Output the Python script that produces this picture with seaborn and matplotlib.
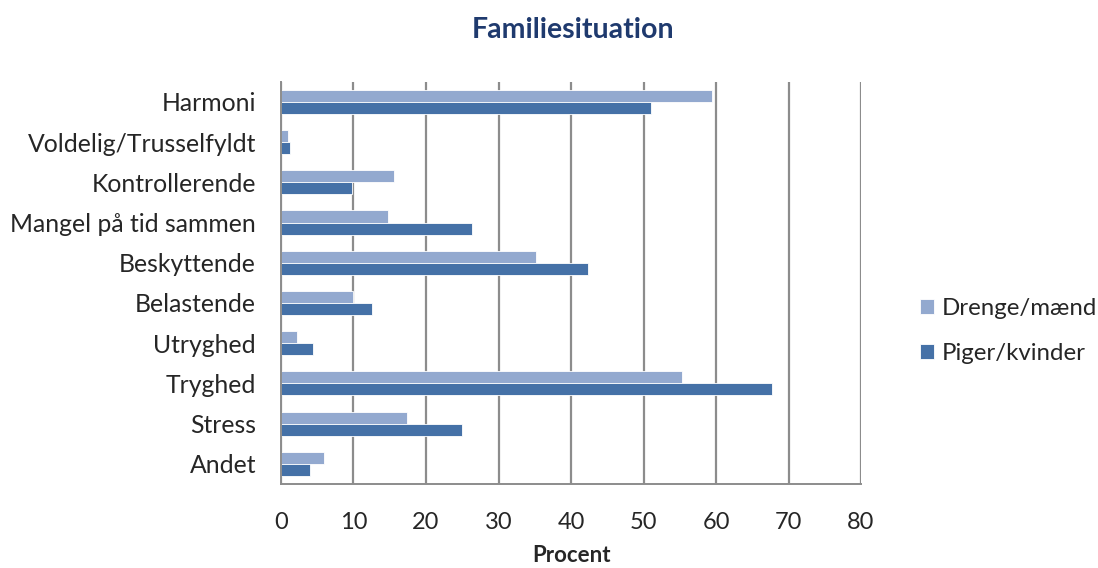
import pandas as pd
import matplotlib.pyplot as plt
import seaborn as sns

kategorier = ["Harmoni", "Voldelig/Trusselfyldt", "Kontrollerende", "Mangel på tid sammen",
              "Beskyttende", "Belastende", "Utryghed", "Tryghed", "Stress", "Andet"]
drenge = [59.5, 0.9, 15.6, 14.8, 35.2, 10.0, 2.2, 55.3, 17.4, 6.0]
piger = [51.0, 1.3, 9.8, 26.4, 42.4, 12.6, 4.4, 67.7, 25.0, 4.0]
serier = ["Drenge/mænd", "Piger/kvinder"]
farver = ["#93A9CF", "#4571A7"]

df = pd.DataFrame({
    "Kategori": kategorier * 2,
    "Procent": drenge + piger,
    "Gruppe": [serier[0]] * len(kategorier) + [serier[1]] * len(kategorier),
})

sns.set_style("white")
plt.rcParams['font.family'] = ['Lato', 'DejaVu Sans']

fig = plt.figure(figsize=(10.98, 5.68), dpi=100)
ax = fig.add_axes([0.2559, 0.148, 0.5283, 0.708])

sns.barplot(data=df, y="Kategori", x="Procent", hue="Gruppe", hue_order=serier,
            order=kategorier, palette=farver, orient="h", width=0.6, ax=ax,
            saturation=1, edgecolor="white", linewidth=0.6, legend=True)

ax.set_xlim(0, 80)
ax.set_xticks(range(0, 81, 10))
ax.xaxis.grid(True, color="#8C8C8C", linewidth=1.6)
ax.yaxis.grid(False)
ax.set_axisbelow(True)
for s in ["top", "right"]:
    ax.spines[s].set_visible(False)
for s in ["left", "bottom"]:
    ax.spines[s].set_color("#8C8C8C")
    ax.spines[s].set_linewidth(1.4)
ax.tick_params(axis="x", direction="out", length=8, width=1.2, color="#8C8C8C",
               labelsize=17, pad=12)
ax.tick_params(axis="y", length=0, labelsize=17.8, pad=18)
ax.set_ylabel("")
ax.set_xlabel("Procent", fontsize=16, fontweight="bold", labelpad=9)

fig.suptitle("Familiesituation", x=0.522, y=0.97, fontsize=20.5, fontweight="bold",
             color="#1F3A6E")

ax.legend(loc="center left", bbox_to_anchor=(1.065, 0.38), frameon=False,
          fontsize=17.3, handlelength=0.55, handleheight=0.55, labelspacing=1.0,
          handletextpad=0.35)

fig.savefig("out.png", dpi=100)
